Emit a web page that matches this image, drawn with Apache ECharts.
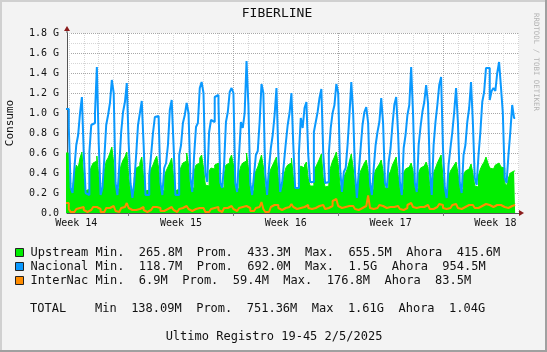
<!DOCTYPE html>
<html><head><meta charset="utf-8">
<script src="https://cdn.jsdelivr.net/npm/echarts@6/dist/echarts.min.js"></script>
<style>html,body{margin:0;padding:0;background:#f3f3f3;}#c{width:547px;height:352px;}</style>
</head><body><div id="c"></div>
<script>
// ---- data ----
const chartTitle = 'FIBERLINE';
const yName = 'Consumo';
const weekLabels = ['Week 14', 'Week 15', 'Week 16', 'Week 17', 'Week 18'];
const weekStarts = [0, 7, 14, 21, 28];          // days since Mon 31 Mar 2025
const seriesNames = ['Upstream', 'Nacional', 'InterNac'];
const seriesColors = ['#00ee00', '#0a99ff', '#ff8c00'];
const legendLines = [
  'Upstream Min.  265.8M  Prom.  433.3M  Max.  655.5M  Ahora  415.6M',
  'Nacional Min.  118.7M  Prom.  692.0M  Max.  1.5G  Ahora  954.5M',
  'InterNac Min.  6.9M  Prom.  59.4M  Max.  176.8M  Ahora  83.5M'
];
const totalLine = 'TOTAL    Min  138.09M  Prom.  751.36M  Max  1.61G  Ahora  1.04G';
const footerLine = 'Ultimo Registro 19-45 2/5/2025';
const sideText = 'RRDTOOL / TOBI OETIKER';
const startTime = 2.75;      // Apr 2 18:00 (days since Mar 31)
const stepDays = 0.125;      // 3 hours
const lastTime = 32 + 19.75 / 24;  // May 2 19:45
const axisMin = 2.88, axisMax = 33.08;

// values in G, 3-hour steps (0h,3h,...,21h per day)
const upstream = [
  0.60, 0.60,
  0.45, 0.22, 0.25, 0.38, 0.48, 0.45, 0.55, 0.61,
  0.35, 0.22, 0.24, 0.40, 0.46, 0.50, 0.52, 0.57,
  0.38, 0.22, 0.26, 0.42, 0.52, 0.55, 0.60, 0.66,
  0.50, 0.25, 0.24, 0.40, 0.48, 0.53, 0.56, 0.61,
  0.36, 0.22, 0.22, 0.35, 0.45, 0.47, 0.50, 0.56,
  0.35, 0.22, 0.23, 0.38, 0.44, 0.48, 0.53, 0.57,
  0.45, 0.24, 0.22, 0.36, 0.42, 0.46, 0.50, 0.55,
  0.36, 0.22, 0.24, 0.40, 0.46, 0.50, 0.52, 0.60,
  0.48, 0.25, 0.25, 0.42, 0.48, 0.50, 0.55, 0.58,
  0.45, 0.28, 0.27, 0.42, 0.45, 0.44, 0.48, 0.50,
  0.45, 0.26, 0.25, 0.38, 0.48, 0.50, 0.54, 0.58,
  0.48, 0.25, 0.24, 0.40, 0.47, 0.50, 0.52, 0.60,
  0.45, 0.23, 0.22, 0.36, 0.42, 0.46, 0.52, 0.58,
  0.46, 0.26, 0.23, 0.38, 0.44, 0.48, 0.52, 0.56,
  0.35, 0.22, 0.25, 0.38, 0.45, 0.48, 0.50, 0.55,
  0.36, 0.24, 0.25, 0.40, 0.47, 0.45, 0.48, 0.51,
  0.34, 0.27, 0.27, 0.42, 0.46, 0.50, 0.54, 0.59,
  0.35, 0.26, 0.27, 0.40, 0.46, 0.52, 0.56, 0.61,
  0.48, 0.28, 0.23, 0.36, 0.40, 0.45, 0.52, 0.59,
  0.45, 0.27, 0.22, 0.36, 0.42, 0.46, 0.50, 0.53,
  0.42, 0.25, 0.23, 0.37, 0.43, 0.46, 0.49, 0.53,
  0.42, 0.25, 0.25, 0.38, 0.42, 0.48, 0.52, 0.56,
  0.38, 0.25, 0.23, 0.40, 0.44, 0.46, 0.47, 0.50,
  0.42, 0.25, 0.24, 0.40, 0.45, 0.47, 0.48, 0.51,
  0.45, 0.27, 0.23, 0.40, 0.45, 0.50, 0.54, 0.58,
  0.36, 0.23, 0.22, 0.36, 0.42, 0.45, 0.48, 0.51,
  0.40, 0.25, 0.23, 0.38, 0.42, 0.44, 0.46, 0.49,
  0.40, 0.27, 0.26, 0.38, 0.44, 0.48, 0.51, 0.56,
  0.50, 0.45, 0.44, 0.46, 0.48, 0.50, 0.52, 0.46,
  0.45, 0.30, 0.27, 0.35, 0.40, 0.42, 0.42
];
const nacional = [
  1.04, 1.04,
  0.86, 0.25, 0.20, 0.45, 0.68, 0.78, 1.00, 1.16,
  0.60, 0.20, 0.18, 0.61, 0.88, 0.90, 1.00, 1.46,
  0.70, 0.18, 0.25, 0.55, 0.88, 0.98, 1.10, 1.33,
  1.20, 0.30, 0.18, 0.48, 0.81, 1.01, 1.11, 1.30,
  0.70, 0.30, 0.15, 0.31, 0.58, 0.88, 1.00, 1.12,
  0.68, 0.18, 0.18, 0.38, 0.58, 0.80, 0.96, 0.97,
  0.97, 0.30, 0.18, 0.45, 0.50, 0.68, 1.03, 1.13,
  0.68, 0.18, 0.18, 0.58, 0.68, 0.90, 0.98, 1.10,
  1.00, 0.35, 0.21, 0.58, 0.86, 0.90, 1.25, 1.31,
  1.20, 0.40, 0.31, 0.81, 0.93, 0.91, 1.16, 1.18,
  1.10, 0.30, 0.25, 0.48, 0.91, 1.01, 1.21, 1.25,
  1.20, 0.30, 0.21, 0.58, 0.91, 0.85, 1.00, 1.52,
  1.08, 0.30, 0.18, 0.38, 0.58, 0.62, 0.91, 1.29,
  1.20, 0.40, 0.18, 0.45, 0.65, 0.78, 0.98, 1.25,
  0.60, 0.21, 0.30, 0.50, 0.70, 0.88, 1.00, 1.20,
  0.68, 0.25, 0.25, 0.60, 0.95, 0.85, 1.05, 1.11,
  0.58, 0.31, 0.31, 0.81, 0.91, 1.01, 1.15, 1.24,
  0.60, 0.30, 0.31, 0.60, 0.85, 1.00, 1.08, 1.29,
  1.20, 0.45, 0.21, 0.41, 0.45, 0.68, 0.98, 1.31,
  1.00, 0.40, 0.15, 0.41, 0.65, 0.88, 1.01, 1.06,
  0.90, 0.30, 0.18, 0.45, 0.68, 0.81, 0.91, 1.15,
  0.90, 0.30, 0.25, 0.51, 0.65, 0.88, 1.08, 1.16,
  0.80, 0.30, 0.18, 0.65, 0.78, 0.98, 1.08, 1.46,
  1.00, 0.30, 0.21, 0.68, 0.86, 1.01, 1.11, 1.28,
  1.10, 0.40, 0.18, 0.68, 0.91, 1.08, 1.28, 1.36,
  0.65, 0.25, 0.15, 0.48, 0.65, 0.81, 1.01, 1.25,
  0.90, 0.30, 0.20, 0.58, 0.68, 0.91, 1.05, 1.31,
  0.90, 0.35, 0.28, 0.58, 0.81, 1.11, 1.21, 1.45,
  1.45, 1.13, 1.22, 1.25, 1.22, 1.40, 1.51, 1.26,
  1.00, 0.35, 0.30, 0.58, 0.81, 1.08, 0.95
];
const internac = [
  0.10, 0.10,
  0.04, 0.01, 0.01, 0.03, 0.04, 0.05, 0.05, 0.06,
  0.03, 0.01, 0.02, 0.03, 0.05, 0.06, 0.06, 0.07,
  0.04, 0.01, 0.01, 0.03, 0.05, 0.05, 0.06, 0.07,
  0.05, 0.02, 0.01, 0.03, 0.05, 0.06, 0.08, 0.10,
  0.05, 0.03, 0.03, 0.03, 0.04, 0.04, 0.05, 0.06,
  0.03, 0.01, 0.01, 0.03, 0.05, 0.06, 0.06, 0.07,
  0.05, 0.02, 0.02, 0.03, 0.04, 0.05, 0.06, 0.06,
  0.03, 0.01, 0.01, 0.04, 0.05, 0.07, 0.07, 0.07,
  0.04, 0.02, 0.02, 0.04, 0.05, 0.05, 0.06, 0.05,
  0.03, 0.01, 0.01, 0.03, 0.04, 0.05, 0.06, 0.06,
  0.03, 0.01, 0.03, 0.05, 0.05, 0.06, 0.07, 0.07,
  0.04, 0.02, 0.02, 0.05, 0.06, 0.06, 0.07, 0.08,
  0.05, 0.02, 0.02, 0.04, 0.05, 0.06, 0.08, 0.11,
  0.04, 0.01, 0.01, 0.02, 0.06, 0.08, 0.09, 0.08,
  0.05, 0.03, 0.03, 0.05, 0.06, 0.06, 0.08, 0.09,
  0.06, 0.04, 0.04, 0.05, 0.06, 0.06, 0.07, 0.08,
  0.05, 0.04, 0.04, 0.05, 0.06, 0.07, 0.08, 0.08,
  0.06, 0.04, 0.05, 0.06, 0.07, 0.12, 0.14, 0.13,
  0.07, 0.05, 0.05, 0.06, 0.06, 0.07, 0.07, 0.07,
  0.05, 0.04, 0.03, 0.04, 0.05, 0.06, 0.07, 0.07,
  0.177, 0.05, 0.04, 0.04, 0.05, 0.07, 0.08, 0.07,
  0.06, 0.05, 0.05, 0.06, 0.06, 0.06, 0.06, 0.07,
  0.05, 0.04, 0.03, 0.03, 0.05, 0.08, 0.10, 0.10,
  0.06, 0.05, 0.05, 0.06, 0.06, 0.06, 0.08, 0.08,
  0.06, 0.04, 0.04, 0.05, 0.06, 0.07, 0.09, 0.08,
  0.05, 0.04, 0.04, 0.05, 0.07, 0.08, 0.09, 0.09,
  0.05, 0.04, 0.04, 0.06, 0.07, 0.08, 0.09, 0.08,
  0.06, 0.05, 0.05, 0.06, 0.07, 0.08, 0.09, 0.10,
  0.08, 0.06, 0.06, 0.07, 0.08, 0.09, 0.08, 0.07,
  0.06, 0.04, 0.05, 0.06, 0.07, 0.08, 0.08
];

// ---- build ----
function toPairs(arr) {
  const out = arr.map((v, i) => [startTime + i * stepDays, v]);
  out.push([lastTime, arr[arr.length - 1]]);
  return out;
}
const FONT = 'DejaVu Sans Mono';
const dayLines = [];
for (let d = Math.ceil(axisMin); d <= axisMax; d++) if (d % 7 !== 0) dayLines.push(d);
const weekLines = weekStarts.filter(w => w > axisMin && w < axisMax);
const labelCenters = weekStarts.map(w => w + 3.5);

const chart = echarts.init(document.getElementById('c'), null, {renderer: 'canvas'});
chart.setOption({
  animation: false,
  backgroundColor: '#f3f3f3',
  grid: {left: 67, top: 33, width: 452, height: 180, show: true, backgroundColor: '#ffffff', borderWidth: 0,
    containLabel: false, outerBoundsMode: 'none'},
  xAxis: [{
    type: 'value', min: axisMin, max: axisMax,
    axisLine: {show: true, onZero: false, lineStyle: {color: '#555', width: 1}},
    axisTick: {show: true, customValues: weekLines, length: 3, lineStyle: {color: '#777'}},
    axisLabel: {
      customValues: labelCenters, margin: 5, color: '#111', fontFamily: FONT, fontSize: 10,
      formatter: v => weekLabels[labelCenters.indexOf(v)] || ''
    },
    splitLine: {show: true, lineStyle: {color: '#a8a8a8', width: 1, type: [1, 1]}}
  }, {
    type: 'value', min: axisMin, max: axisMax, position: 'top',
    axisLine: {show: false}, axisLabel: {show: false},
    axisTick: {show: false, customValues: dayLines},
    splitLine: {show: true, lineStyle: {color: '#d6d6d6', width: 1, type: [1, 1]}}
  }],
  yAxis: {
    type: 'value', min: 0, max: 1.8, interval: 0.2,
    name: yName, nameLocation: 'middle', nameRotate: 90, nameGap: 51,
    nameTextStyle: {fontFamily: FONT, fontSize: 11, color: '#111'},
    axisLine: {show: true, lineStyle: {color: '#555', width: 1}},
    axisTick: {show: false},
    axisLabel: {margin: 8, color: '#111', fontFamily: FONT, fontSize: 10,
      formatter: v => v === 0 ? '0.0' : v.toFixed(1) + ' G'},
    splitLine: {show: true, lineStyle: {color: '#a8a8a8', width: 1, type: [1, 1]}},
    minorTick: {show: false, splitNumber: 2},
    minorSplitLine: {show: true, lineStyle: {color: '#d6d6d6', width: 1, type: [1, 1]}}
  },
  legend: {
    data: seriesNames, orient: 'vertical', left: 15, top: 245.5, padding: 0,
    itemWidth: 8, itemHeight: 8, itemGap: 0, icon: 'rect', selectedMode: false,
    itemStyle: {borderColor: '#222', borderWidth: 1},
    textStyle: {fontFamily: FONT, fontSize: 12, lineHeight: 14, color: '#111', padding: [0, 0, 0, 2]},
    formatter: name => legendLines[seriesNames.indexOf(name)]
  },
  series: [
    {name: seriesNames[0], type: 'line', step: 'end', symbol: 'none', data: toPairs(upstream),
      color: seriesColors[0], lineStyle: {width: 1, color: seriesColors[0]},
      areaStyle: {color: seriesColors[0], opacity: 1}, z: 2},
    {name: seriesNames[1], type: 'line', step: 'end', symbol: 'none', data: toPairs(nacional),
      color: seriesColors[1], lineStyle: {width: 2, color: seriesColors[1]}, z: 3},
    {name: seriesNames[2], type: 'line', step: 'end', symbol: 'none', data: toPairs(internac),
      color: seriesColors[2], lineStyle: {width: 2, color: seriesColors[2]}, z: 4}
  ],
  graphic: [
    {type: 'line', shape: {x1: 0, y1: 1, x2: 547, y2: 1}, style: {stroke: '#d0d0d0', lineWidth: 2}, silent: true},
    {type: 'line', shape: {x1: 1, y1: 0, x2: 1, y2: 352}, style: {stroke: '#d0d0d0', lineWidth: 2}, silent: true},
    {type: 'line', shape: {x1: 546, y1: 0, x2: 546, y2: 352}, style: {stroke: '#a0a0a0', lineWidth: 2}, silent: true},
    {type: 'line', shape: {x1: 0, y1: 351, x2: 547, y2: 351}, style: {stroke: '#a0a0a0', lineWidth: 2}, silent: true},
    {type: 'line', shape: {x1: 67, y1: 30, x2: 67, y2: 33}, style: {stroke: '#555', lineWidth: 1}, silent: true},
    {type: 'polygon', shape: {points: [[64, 31], [70, 31], [67, 26]]}, style: {fill: '#8b1c1c'}, silent: true},
    {type: 'polygon', shape: {points: [[519, 210], [519, 216], [524, 213]]}, style: {fill: '#8b1c1c'}, silent: true},
    {type: 'text', x: 277, y: 14, style: {text: chartTitle, font: '13px "' + FONT + '"', fill: '#111', align: 'center', verticalAlign: 'middle'}},
    {type: 'text', x: 536, y: 62, rotation: -Math.PI / 2, style: {text: sideText, font: '7.4px "' + FONT + '"', fill: '#b4b4b4', align: 'center', verticalAlign: 'middle'}},
    {type: 'text', x: 30, y: 309, style: {text: totalLine, font: '12px "' + FONT + '"', fill: '#111', align: 'left', verticalAlign: 'middle'}},
    {type: 'text', x: 274, y: 337, style: {text: footerLine, font: '12px "' + FONT + '"', fill: '#111', align: 'center', verticalAlign: 'middle'}}
  ]
});
</script></body></html>
